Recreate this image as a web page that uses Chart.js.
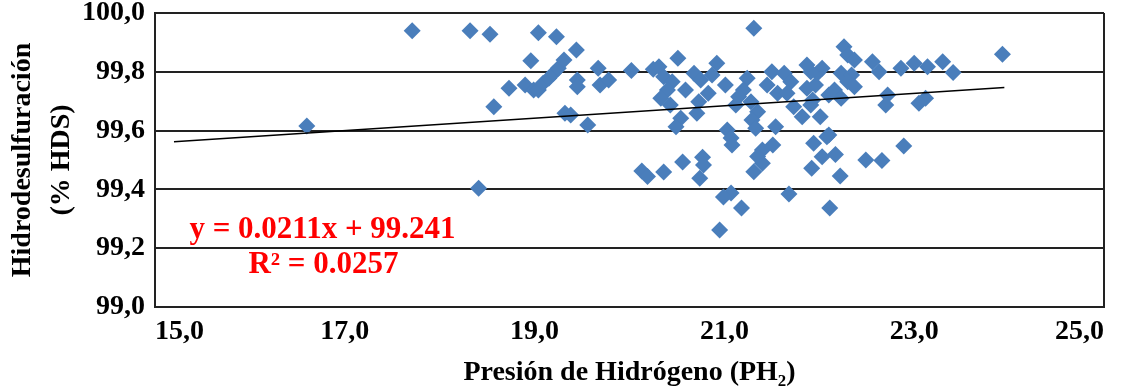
<!DOCTYPE html>
<html>
<head>
<meta charset="utf-8">
<script src="https://cdn.jsdelivr.net/npm/chart.js@4"></script>
<style>
html,body{margin:0;padding:0;background:#fff;}
#wrap{width:1122px;height:392px;}
</style>
</head>
<body>
<div id="wrap"><canvas id="c" width="1122" height="392"></canvas></div>
<script>
// ---- Data ----
const pressure = [
16.60,17.71,18.41,18.32,18.53,18.57,18.73,18.90,18.96,18.99,
19.04,19.04,19.09,19.15,19.20,19.25,19.31,19.23,19.44,19.32,
19.38,19.45,19.45,19.56,19.67,19.69,19.78,20.02,20.13,20.19,
20.25,20.31,20.36,20.45,20.40,20.33,20.43,20.51,20.59,20.68,
20.75,20.92,20.87,20.83,20.73,20.71,20.54,20.49,21.01,20.36,
20.56,20.77,20.78,20.74,21.03,21.07,21.08,21.07,20.99,21.18,
20.95,21.31,21.24,21.20,21.15,21.12,21.28,21.35,21.29,21.33,
21.40,21.51,21.40,21.31,21.50,21.45,21.56,21.63,21.70,21.66,
21.73,21.82,21.87,21.87,21.93,21.98,21.54,21.68,21.94,22.10,
22.03,22.17,21.92,22.22,22.11,22.49,22.66,22.89,22.26,22.30,
22.37,22.03,21.91,21.96,22.23,22.34,22.30,22.37,22.16,22.23,
22.10,21.91,22.01,22.56,22.63,22.72,22.70,22.86,23.00,23.14,
23.30,23.41,23.12,23.05,23.93,22.08,21.35
];
const hds = [
99.616,99.940,99.404,99.940,99.928,99.681,99.744,99.755,99.838,99.738,
99.738,99.933,99.761,99.778,99.795,99.812,99.840,99.919,99.874,99.659,
99.653,99.772,99.749,99.619,99.812,99.755,99.772,99.804,99.463,99.444,
99.809,99.817,99.783,99.766,99.738,99.710,99.687,99.846,99.738,99.795,
99.772,99.829,99.789,99.727,99.698,99.659,99.642,99.613,99.755,99.459,
99.493,99.509,99.483,99.438,99.602,99.575,99.551,99.388,99.374,99.337,
99.262,99.948,99.778,99.738,99.715,99.687,99.698,99.664,99.636,99.608,
99.534,99.551,99.489,99.460,99.800,99.755,99.727,99.795,99.766,99.727,
99.681,99.647,99.823,99.744,99.704,99.795,99.613,99.384,99.557,99.585,
99.511,99.519,99.472,99.446,99.337,99.500,99.498,99.548,99.885,99.857,
99.840,99.812,99.800,99.755,99.795,99.789,99.766,99.749,99.738,99.710,
99.721,99.687,99.647,99.834,99.800,99.721,99.687,99.812,99.829,99.817,
99.834,99.798,99.710,99.693,99.860,99.579,99.512
];
const trendSlope = 0.0211;
const trendIntercept = 99.241;
const trendRange = [15.2, 23.95];
const equationLines = ["y = 0.0211x + 99.241", "R\u00b2 = 0.0257"];
const equationAnchorX = [16.765, 16.775];
const equationAnchorY = [99.235, 99.116];
const xTitle = "Presi\u00f3n de Hidr\u00f3geno (PH\u2082)";
const yTitle = ["Hidrodesulfuraci\u00f3n", "(% HDS)"];
const xMin = 15, xMax = 25, xStep = 2;
const yMin = 99.0, yMax = 100.0, yStep = 0.2;

// ---- Build datasets ----
const points = pressure.map((x, i) => ({x: x, y: hds[i]}));
const trend = trendRange.map(x => ({x: x, y: trendIntercept + trendSlope * x}));
const FONT = '"Liberation Serif", "Times New Roman", serif';
const fmt = v => Number(v).toFixed(1).replace('.', ',');

const equationPlugin = {
  id: 'equation',
  afterDatasetsDraw(chart) {
    const ctx = chart.ctx, xs = chart.scales.x, ys = chart.scales.y;
    ctx.save();
    ctx.font = 'bold 31px ' + FONT;
    ctx.fillStyle = '#FF0000';
    ctx.textAlign = 'center';
    ctx.textBaseline = 'alphabetic';
    equationLines.forEach((t, i) => {
      ctx.fillText(t, xs.getPixelForValue(equationAnchorX[i]), ys.getPixelForValue(equationAnchorY[i]));
    });
    ctx.restore();
  }
};

new Chart(document.getElementById('c'), {
  type: 'scatter',
  data: {
    datasets: [
      {
        type: 'line',
        data: trend,
        borderColor: '#000000',
        borderWidth: 1.5,
        pointRadius: 0,
        fill: false,
        order: 0
      },
      {
        type: 'scatter',
        data: points,
        pointStyle: 'rectRot',
        pointRadius: 8.5,
        backgroundColor: '#4A7EBB',
        borderWidth: 0,
        order: 1
      }
    ]
  },
  options: {
    responsive: false,
    animation: false,
    devicePixelRatio: 1,
    events: [],
    layout: {padding: {top: 13, right: 18, bottom: 0, left: 0}},
    plugins: {legend: {display: false}, tooltip: {enabled: false}},
    scales: {
      x: {
        type: 'linear',
        min: xMin, max: xMax,
        afterFit(s) { s.height = 85; s.paddingLeft = 0; s.paddingRight = 0; },
        ticks: {
          stepSize: xStep,
          align: 'inner',
          padding: 8,
          color: '#000',
          font: {family: FONT, size: 28, weight: 'bold'},
          callback: v => fmt(v)
        },
        grid: {
          drawTicks: false,
          lineWidth: 2,
          color: c => (c.tick && c.tick.value === xMax) ? '#222' : 'rgba(0,0,0,0)'
        },
        border: {display: true, color: '#222', width: 2},
        title: {
          display: true,
          text: xTitle,
          color: '#000',
          font: {family: FONT, size: 28, weight: 'bold', lineHeight: 1.2},
          padding: {top: 0, bottom: 2}
        }
      },
      y: {
        type: 'linear',
        min: yMin, max: yMax,
        afterFit(s) { s.width = 155; s.paddingTop = 0; s.paddingBottom = 0; },
        ticks: {
          stepSize: yStep,
          padding: 10,
          color: '#000',
          font: {family: FONT, size: 28, weight: 'bold'},
          callback: v => fmt(v)
        },
        grid: {drawTicks: false, lineWidth: 2, color: '#222'},
        border: {display: true, color: '#222', width: 2},
        title: {
          display: true,
          text: yTitle,
          color: '#000',
          font: {family: FONT, size: 28, weight: 'bold', lineHeight: 1.4},
          padding: {top: 3, bottom: 0}
        }
      }
    }
  },
  plugins: [equationPlugin]
});
</script>
</body>
</html>
